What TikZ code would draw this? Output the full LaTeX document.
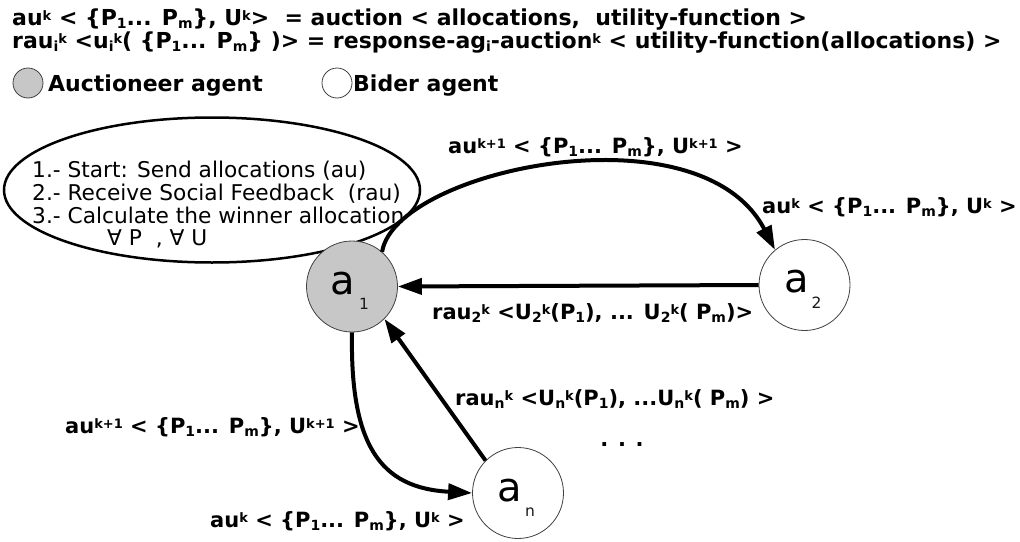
\documentclass[tikz,border=0pt]{standalone}
\usepackage{fontspec}
\setmainfont{DejaVu Sans}
\usetikzlibrary{arrows.meta}
% raised and lowered indices in the running text
\newcommand\SupT[1]{\raisebox{5pt}{\fontsize{13}{13}\selectfont #1}}
\newcommand\SubT[1]{\raisebox{-3pt}{\fontsize{14}{14}\selectfont #1}}
\begin{document}
\begin{tikzpicture}[x=1pt,y=-1pt,
  lbl/.style={font=\bfseries\fontsize{21}{24}\selectfont, inner sep=0pt, anchor=base west},
  headtext/.style={lbl, font=\bfseries\fontsize{22}{24}\selectfont},
  steptext/.style={font=\fontsize{21.7}{23}\selectfont, inner sep=0pt, anchor=base west},
  agent/.style={circle, draw=black!75, line width=0.8pt, minimum size=91pt, inner sep=0pt},
  auct/.style={agent, fill=black!22},
  bidder/.style={agent, fill=white},
  bigname/.style={font=\fontsize{40}{40}\selectfont, inner sep=0pt},
  idx/.style={font=\fontsize{15.5}{15.5}\selectfont, text=black!90, inner sep=0pt},
  legdot/.style={circle, draw=black!75, line width=0.8pt, minimum size=30pt, inner sep=0pt},
  arr/.style={line width=4pt, arrows={-Triangle[length=24pt,width=16pt]}}]
\useasboundingbox (0,0) rectangle (1020,541);

% header: definitions
\node[headtext] (def1) at (12,25) {au\SupT{k} < \{P\SubT{1}... P\SubT{m}\}, U\SupT{k}>\ \ = auction < allocations,\ \ utility-function >};
\node[headtext] (def2) at (12,48) {rau\SubT{i}\SupT{k} <u\SubT{i}\SupT{k}( \{P\SubT{1}... P\SubT{m}\} )> = response-ag\SubT{i}-auction\SupT{k} < utility-function(allocations) >};

% legend
\node[legdot, fill=black!22] (legA) at (28,83) {};
\node[headtext] (legAt) at (48,91) {Auctioneer agent};
\node[legdot, fill=white] (legB) at (337,83) {};
\node[headtext] (legBt) at (353,91) {Bider agent};

% auctioneer's procedure
\draw[line width=2.5pt] (212,190) ellipse [x radius=208, y radius=72.5];
\node[steptext] (s1) at (32,177) {1.- Start: Send allocations (au)};
\node[steptext] (s2) at (32,200) {2.- Receive Social Feedback\ \ (rau)};
\node[steptext] (s3) at (32,223) {3.- Calculate the winner allocation};
\node[steptext] (s4) at (107,245) {∀ P\ \ , ∀ U};

% agents
\node[auct] (a1) at (352,286.5) {};
\node[bidder] (a2) at (804.5,285) {};
\node[bidder] (an) at (518,493) {};
\node[bigname] (a1n) at ([shift={(-9,-3)}]a1.center) {a};
\node[idx] (a1i) at ([shift={(12,17)}]a1.center) {1};
\node[bigname] (a2n) at ([shift={(-8,-3)}]a2.center) {a};
\node[idx] (a2i) at ([shift={(12,18)}]a2.center) {2};
\node[bigname] (ann) at ([shift={(-8,-2)}]an.center) {a};
\node[idx] (ani) at ([shift={(12,19)}]an.center) {n};

% messages
\draw[arr] (a1.49) .. controls (395,170) and (700,105) .. (a2.130);
\draw[arr] (a2.west) -- (a1.east);
\draw[arr] (an.135) -- (a1.-45);
\draw[arr] (a1.south) .. controls (350,445) and (380,488) .. (an.west);

% message labels
\node[lbl] (m1) at (448,153) {au\SupT{k+1} < \{P\SubT{1}... P\SubT{m}\}, U\SupT{k+1} >};
\node[lbl] (m2) at (762,213) {au\SupT{k} < \{P\SubT{1}... P\SubT{m}\}, U\SupT{k} >};
\node[lbl] (m3) at (432,319) {rau\SubT{2}\SupT{k} <U\SubT{2}\SupT{k}(P\SubT{1}), ... U\SubT{2}\SupT{k}( P\SubT{m})>};
\node[lbl] (m4) at (455,405) {rau\SubT{n}\SupT{k} <U\SubT{n}\SupT{k}(P\SubT{1}), ...U\SubT{n}\SupT{k}( P\SubT{m}) >};
\node[lbl, anchor=base] (more) at (622,446) {. . .};
\node[lbl] (m5) at (65,433) {au\SupT{k+1} < \{P\SubT{1}... P\SubT{m}\}, U\SupT{k+1} >};
\node[lbl] (m6) at (210,527) {au\SupT{k} < \{P\SubT{1}... P\SubT{m}\}, U\SupT{k} >};
\end{tikzpicture}
\end{document}
